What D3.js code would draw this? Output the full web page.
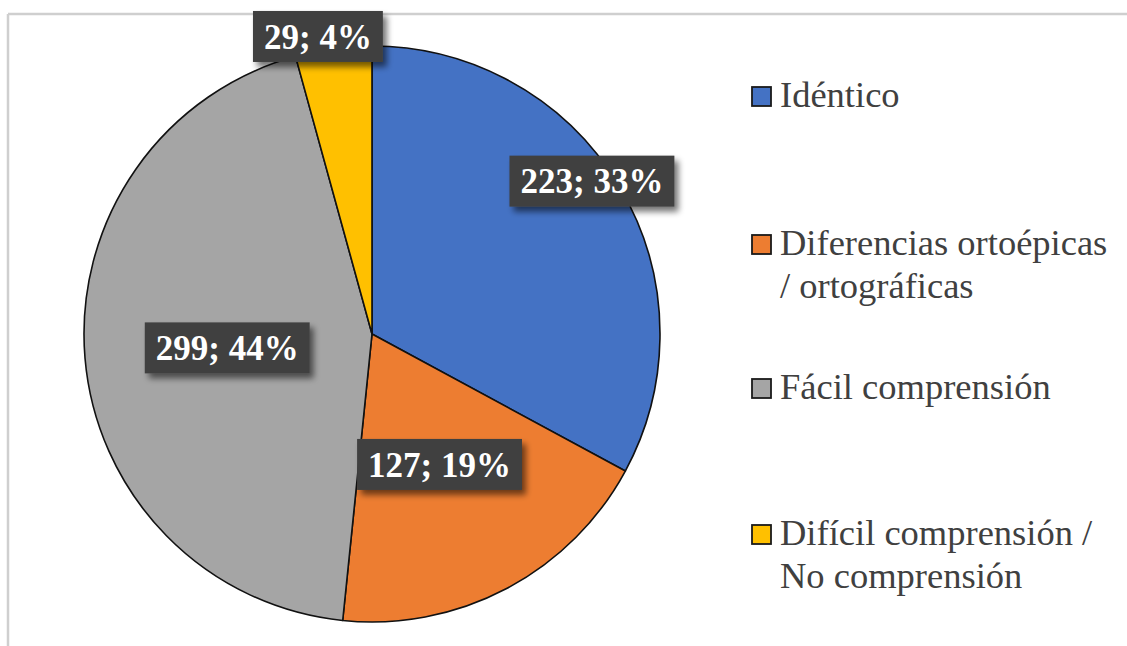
<!DOCTYPE html>
<html>
<head>
<meta charset="utf-8">
<script src="https://cdn.jsdelivr.net/npm/d3@7"></script>
<style>
  html, body { margin: 0; padding: 0; background: #ffffff; }
  svg { display: block; }
  text { font-family: "Liberation Serif", "Times New Roman", serif; }
</style>
</head>
<body>
<svg id="chart" width="1127" height="646"></svg>
<script>
// ---- data ----
const categories = ["Idéntico", "Diferencias ortoépicas / ortográficas", "Fácil comprensión", "Difícil comprensión / No comprensión"];
const values = [223, 127, 299, 29];
const percents = [33, 19, 44, 4];
const legendLines = [["Idéntico"], ["Diferencias ortoépicas", "/ ortográficas"], ["Fácil comprensión"], ["Difícil comprensión /", "No comprensión"]];

// ---- styles / layout ----
const colors = ["#4472C4", "#ED7D31", "#A5A5A5", "#FFC000"];
// label placement (fraction of radius, angle shift in degrees) mimicking best-fit
const labelPlace = [{k: 0.93, da: -4}, {k: 0.51, da: 0.5}, {k: 0.505, da: -0.7}, {k: 1.05, da: -2.6}];

const W = 1127, H = 646;
const cx = 372, cy = 334, R = 288;

const svg = d3.select("#chart");

const defs = svg.append("defs");
const f = defs.append("filter").attr("id", "shadow").attr("x", "-20%").attr("y", "-30%").attr("width", "150%").attr("height", "180%");
f.append("feGaussianBlur").attr("in", "SourceAlpha").attr("stdDeviation", 3).attr("result", "b");
f.append("feOffset").attr("in", "b").attr("dx", 4).attr("dy", 5).attr("result", "o");
f.append("feComponentTransfer").attr("in", "o").attr("result", "o2")
  .append("feFuncA").attr("type", "linear").attr("slope", 0.55);
const m = f.append("feMerge");
m.append("feMergeNode").attr("in", "o2");
m.append("feMergeNode").attr("in", "SourceGraphic");

// frame lines
svg.append("line").attr("x1", 8).attr("y1", 14).attr("x2", W).attr("y2", 14)
  .attr("stroke", "#cfcfcf").attr("stroke-width", 2.5);
svg.append("line").attr("x1", 8).attr("y1", 14).attr("x2", 8).attr("y2", H)
  .attr("stroke", "#cfcfcf").attr("stroke-width", 2.5);

const data = categories.map((c, i) => ({cat: c, value: values[i], pct: percents[i], i}));

const pie = d3.pie().value(d => d.value).sort(null);
const arcs = pie(data);
const arc = d3.arc().innerRadius(0).outerRadius(R);

const g = svg.append("g").attr("transform", `translate(${cx},${cy})`);
g.selectAll("path.slice").data(arcs).join("path")
  .attr("class", "slice")
  .attr("d", arc)
  .attr("fill", d => colors[d.data.i])
  .attr("stroke", "#111")
  .attr("stroke-width", 1.6)
  .attr("stroke-linejoin", "round");

// labels
const lg = g.selectAll("g.lab").data(arcs).join("g").attr("class", "lab")
  .attr("transform", d => {
    const p = labelPlace[d.data.i];
    const a = (d.startAngle + d.endAngle) / 2 + p.da * Math.PI / 180;
    const x = Math.sin(a) * R * p.k;
    const y = -Math.cos(a) * R * p.k;
    return `translate(${x},${y})`;
  });

lg.each(function(d) {
  const sel = d3.select(this);
  const t = sel.append("text")
    .attr("text-anchor", "middle")
    .attr("dy", "0.35em")
    .attr("font-weight", "bold")
    .attr("font-size", 35)
    .attr("fill", "#ffffff")
    .text(`${d.data.value}; ${d.data.pct}%`);
  const bb = t.node().getBBox();
  const padX = 11, h = 51;
  sel.insert("rect", "text")
    .attr("x", bb.x - padX)
    .attr("y", -h / 2)
    .attr("width", bb.width + 2 * padX)
    .attr("height", h)
    .attr("fill", "#404040")
    .attr("filter", "url(#shadow)");
});

// legend
const legendX = 752, sq = 19, textX = 780;
const rowBaselines = [107, 255, 399, 545];
const lineGap = 43;
const leg = svg.append("g");
legendLines.forEach((lines, i) => {
  const by = rowBaselines[i];
  leg.append("rect")
    .attr("x", legendX).attr("y", by - sq - 1)
    .attr("width", sq).attr("height", sq)
    .attr("fill", colors[i])
    .attr("stroke", "#1a1a1a").attr("stroke-width", 1.8);
  const t = leg.append("text")
    .attr("font-size", 36.5)
    .attr("fill", "#404040");
  lines.forEach((ln, j) => {
    t.append("tspan").attr("x", textX).attr("y", by + j * lineGap).text(ln);
  });
});
</script>
</body>
</html>
